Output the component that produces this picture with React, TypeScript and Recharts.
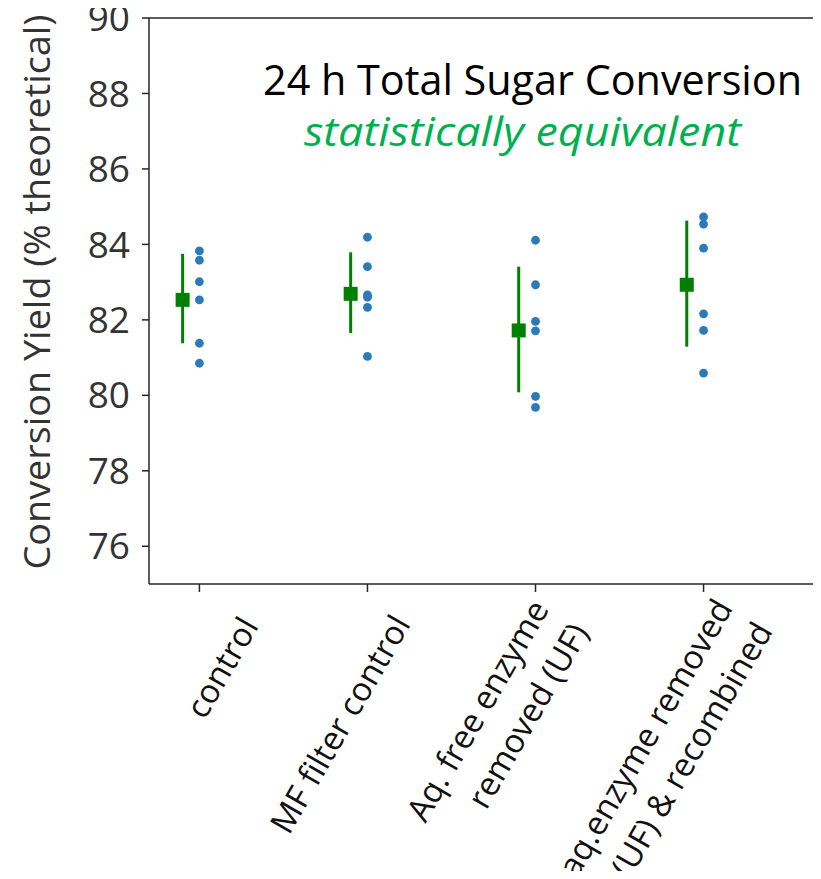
import React from "react";
import { ScatterChart, Scatter, XAxis, YAxis, ErrorBar, ReferenceLine } from "recharts";

const categories = [
  "control",
  "MF filter control",
  "Aq. free enzyme\nremoved (UF)",
  "aq.enzyme removed\n(UF) & recombined",
];

// individual replicate yields (% theoretical)
const controlRuns = [83.83, 83.58, 83.01, 82.53, 81.38, 80.85];
const mfFilterRuns = [84.19, 83.41, 82.66, 82.6, 82.33, 81.03];
const aqFreeRuns = [84.11, 82.93, 81.96, 81.71, 79.97, 79.68];
const recombinedRuns = [84.73, 84.54, 83.9, 82.16, 81.72, 80.59];

// mean with interval
const meanYield = [82.53, 82.69, 81.72, 82.93];
const ciLow = [81.38, 81.65, 80.08, 81.29];
const ciHigh = [83.75, 83.79, 83.41, 84.63];

const yTicks = [76, 78, 80, 82, 84, 86, 88, 90];
const xTicks = [0, 1, 2, 3];

const font = "'Open Sans', 'DejaVu Sans', sans-serif";
const axisColor = "#262626";

const runs = [controlRuns, mfFilterRuns, aqFreeRuns, recombinedRuns];
const dotData = runs.flatMap((vals, i) => vals.map((v) => ({ x: i, y: v })));
const meanData = meanYield.map((m, i) => ({
  x: i - 0.1,
  y: m,
  err: [m - ciLow[i], ciHigh[i] - m],
}));

// labels were hand placed in the original, small per-label nudges
const nudgeX = [6, -10, 0, 16];
const nudgeY = [0, -2, 6, 5];

function CategoryTick(props: any) {
  const { x, payload } = props;
  const i = payload.value;
  const lines = categories[i].split("\n");
  const n = lines.length;
  return (
    <g transform={`translate(${x + 54 + nudgeX[i]},${626 + nudgeY[i]}) rotate(-60)`}>
      <text textAnchor="end" fontFamily={font} fontSize={33} fill="#111">
        {lines.map((l, k) => (
          <tspan key={k} x={0} y={(k - (n - 1)) * 46}>
            {l}
          </tspan>
        ))}
      </text>
    </g>
  );
}

const Dot = (p: any) => <circle cx={p.cx} cy={p.cy} r={4.4} fill="#2b7bba" />;
const Square = (p: any) => <rect x={p.cx - 7} y={p.cy - 7} width={14} height={14} fill="#008000" />;

export default function App() {
  return (
    <div style={{ margin: -8, width: 821, height: 879, overflow: "hidden", position: "relative", background: "#fff" }}>
      <ScatterChart width={838} height={879} margin={{ top: 18, right: 0, bottom: 0, left: 0 }} style={{ overflow: "visible" }}>
        <XAxis
          type="number"
          dataKey="x"
          domain={[-0.3, 3.8]}
          ticks={xTicks}
          height={295}
          tickSize={8}
          tickMargin={0}
          stroke={axisColor}
          strokeWidth={1.5}
          tick={<CategoryTick />}
          interval={0}
        />
        <YAxis
          type="number"
          dataKey="y"
          domain={[75, 90]}
          ticks={yTicks}
          width={149}
          tickSize={7}
          tickMargin={12}
          stroke={axisColor}
          strokeWidth={1.5}
          tick={{ fontFamily: font, fontSize: 37, fill: "#333" }}
          interval={0}
        />
        <ReferenceLine y={90} stroke={axisColor} strokeWidth={1.5} />
        <Scatter data={dotData} dataKey="y" shape={Dot} isAnimationActive={false} />
        <Scatter data={meanData} dataKey="y" shape={Square} isAnimationActive={false}>
          <ErrorBar dataKey="err" direction="y" width={0} stroke="#008000" strokeWidth={3} />
        </Scatter>
      </ScatterChart>
      <svg width={821} height={879} style={{ position: "absolute", left: 0, top: 0, pointerEvents: "none" }}>
        <text x={263} y={95} fontFamily={font} fontSize={42} fill="#000" textLength={539} lengthAdjust="spacingAndGlyphs">
          24 h Total Sugar Conversion
        </text>
        <text
          x={304}
          y={146}
          fontFamily={font}
          fontSize={40}
          fontStyle="italic"
          fill="#00b050"
          textLength={437}
          lengthAdjust="spacingAndGlyphs"
        >
          statistically equivalent
        </text>
        <text
          transform="translate(50,292) rotate(-90)"
          textAnchor="middle"
          fontFamily={font}
          fontSize={37}
          fill="#333"
          textLength={555}
          lengthAdjust="spacingAndGlyphs"
        >
          Conversion Yield (% theoretical)
        </text>
      </svg>
    </div>
  );
}
